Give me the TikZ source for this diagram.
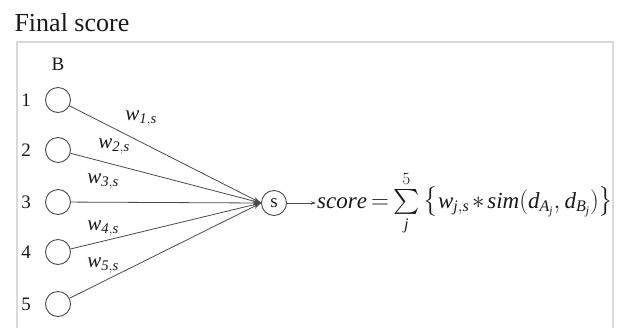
\documentclass[tikz,border=0pt]{standalone}
\usepackage{amsmath}
\usepackage{fontspec}
\setmainfont{Liberation Serif}
\usetikzlibrary{arrows.meta}
\definecolor{framegray}{HTML}{D9D9D9}
\definecolor{linegray}{HTML}{4A4A4A}
\newcommand{\itm}[1]{\mathit{#1}}

\begin{document}
\begin{tikzpicture}[x=1pt, y=-1pt, >={Stealth[length=8pt, width=5pt]},
  every node/.style={font=\fontsize{19}{22}\selectfont, text=black!90},
  unit/.style={draw=linegray, line width=0.9pt, circle, minimum size=25pt, inner sep=0pt},
  link/.style={draw=linegray, line width=0.8pt},
  weight/.style={font=\fontsize{21}{24}\selectfont}]
\useasboundingbox (0,0) rectangle (620,327);
\node[anchor=base west, font=\fontsize{26}{30}\selectfont] (title) at (11,31) {Final score};
\draw[framegray, line width=2pt] (17,335) -- (17,42) -- (613,42) -- (613,335);
\node (colB) at (58,64) {B};
\foreach \i/\y in {1/100,2/150,3/202,4/252,5/304} {
  \node[unit] (b\i) at (58,\y) {};
  \node (n\i) at (26,\y) {\i};
}
\node[unit] (s) at (274,203) {s};
\foreach \i in {1,...,5} \draw[link, ->] (b\i) -- (s.west);
\node[weight] (w1) at (141,119) {$\itm{w}_{\itm{1,s}}$};
\node[weight] (w2) at (114,147) {$\itm{w}_{\itm{2,s}}$};
\node[weight] (w3) at (103,182) {$\itm{w}_{\itm{3,s}}$};
\node[weight] (w4) at (103,229) {$\itm{w}_{\itm{4,s}}$};
\node[weight] (w5) at (103,266) {$\itm{w}_{\itm{5,s}}$};
\node[anchor=west, font=\fontsize{23}{27}\selectfont, inner sep=1pt] (score) at (316,203)
  {\thickmuskip=3mu \medmuskip=2mu $\itm{score} = \sum\limits_{\itm{j}}^{5} \big\{ \itm{w}_{\itm{j,s}} * \itm{sim}(\itm{d}_{\itm{A}_{\itm{j}}}, \itm{d}_{\itm{B}_{\itm{j}}}) \big\}$};
\draw[link, -{Stealth[length=5pt, width=3.5pt]}] (s) -- (score);
\end{tikzpicture}
\end{document}
